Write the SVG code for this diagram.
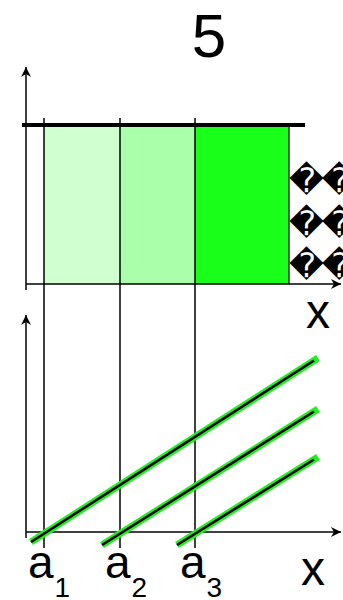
<svg xmlns="http://www.w3.org/2000/svg" width="343" height="600" viewBox="0 0 343 600">
<defs>
<marker id="arr" viewBox="0 0 10 10" refX="10" refY="5" markerWidth="10" markerHeight="10" markerUnits="userSpaceOnUse" orient="auto">
<path d="M0,0 L10,5 L0,10 L3,5 z" fill="#000"/>
</marker>
</defs>
<style>
.t{font-family:"Liberation Sans",Arial,sans-serif;fill:#000}
.q{font-family:"DejaVu Sans",sans-serif;font-size:34px;letter-spacing:-2px;fill:#000}
.ax{stroke:#000;stroke-width:1.5;fill:none}
.v{stroke:#000;stroke-width:1.5}
.g{stroke:#22ee22;stroke-width:7;stroke-linecap:butt}
.k{stroke:#000;stroke-width:2.5}
</style>
<rect width="343" height="600" fill="#fff"/>
<g id="title"><text class="t" x="209" y="57" font-size="62" text-anchor="middle">5</text></g>
<g id="bars">
<rect x="44" y="125" width="76" height="159" fill="#d0ffd0"/>
<rect x="120" y="125" width="75" height="159" fill="#aaffaa"/>
<rect x="195" y="125" width="94" height="159" fill="#1aff1a"/>
<line x1="289" y1="125" x2="289" y2="284" stroke="#333" stroke-width="1.5"/>
</g>
<g id="connectors">
<line class="ax" x1="26" y1="290" x2="26" y2="67" marker-end="url(#arr)"/>
<line class="ax" x1="26" y1="284" x2="341" y2="284" marker-end="url(#arr)"/>
<line class="ax" x1="26" y1="538" x2="26" y2="315" marker-end="url(#arr)"/>
<line class="ax" x1="26" y1="532" x2="341" y2="532" marker-end="url(#arr)"/>
<line class="v" x1="44" y1="118" x2="44" y2="548" stroke="#333"/>
<line class="v" x1="120" y1="118" x2="120" y2="548"/>
<line class="v" x1="195" y1="118" x2="195" y2="548" stroke="#333"/>
<line x1="22" y1="125" x2="305" y2="125" stroke="#000" stroke-width="4"/>
<line class="g" x1="31" y1="542" x2="318" y2="358"/>
<line class="k" x1="31" y1="542" x2="314" y2="360.5"/>
<line class="g" x1="102" y1="545" x2="318" y2="409"/>
<line class="k" x1="102" y1="545" x2="314" y2="411.5"/>
<line class="g" x1="177" y1="545" x2="318" y2="457"/>
<line class="k" x1="177" y1="545" x2="314" y2="459.5"/>
</g>
<g id="labels">
<text class="q" x="289" y="192">��</text>
<text class="q" x="289" y="235">��</text>
<text class="q" x="289" y="277">��</text>
<text class="t" x="306" y="328" font-size="48">x</text>
<text class="t" x="301" y="585" font-size="48">x</text>
<text class="t" x="28" y="578" font-size="46">a<tspan font-size="28" dx="1" dy="19">1</tspan></text>
<text class="t" x="105" y="578" font-size="46">a<tspan font-size="28" dx="1" dy="19">2</tspan></text>
<text class="t" x="180" y="578" font-size="46">a<tspan font-size="28" dx="1" dy="19">3</tspan></text>
</g>
</svg>
